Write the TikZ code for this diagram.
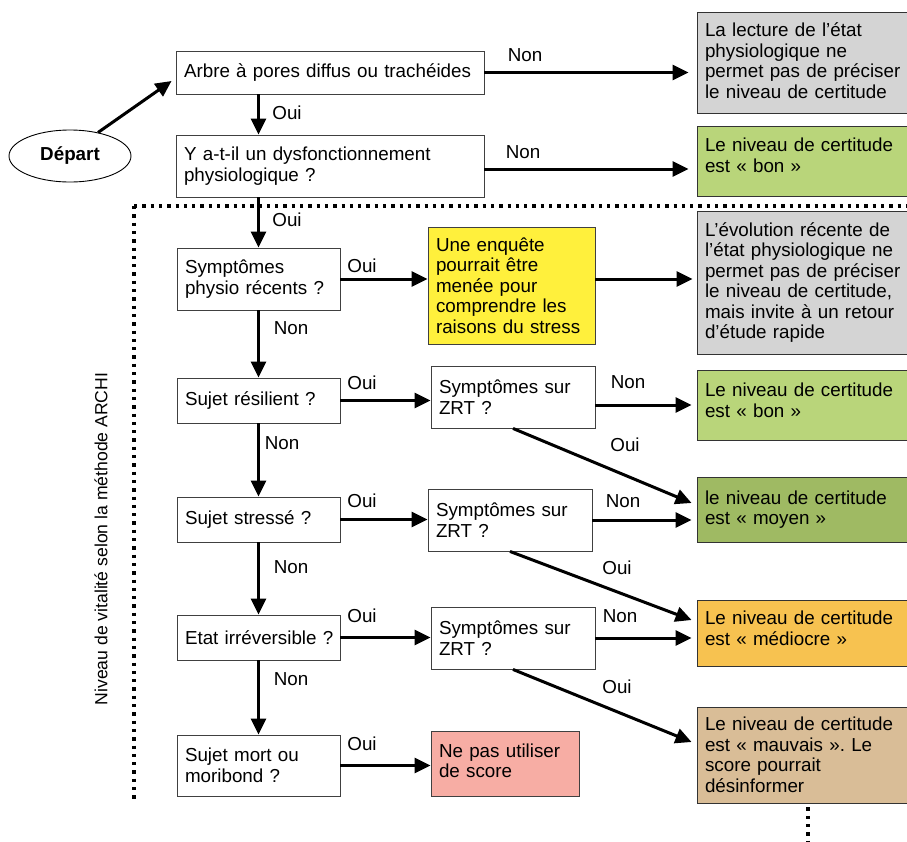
\documentclass[tikz,border=0pt]{standalone}
\usepackage{fontspec}
\setmainfont{Liberation Sans}
\usetikzlibrary{arrows.meta,shapes.geometric,calc}
\definecolor{cgray}{HTML}{D4D4D4}
\definecolor{cbon}{HTML}{B9D57A}
\definecolor{cmoyen}{HTML}{9FBA63}
\definecolor{cyellow}{HTML}{FFF03C}
\definecolor{cmedi}{HTML}{F7C250}
\definecolor{cmauv}{HTML}{D9BD97}
\definecolor{cred}{HTML}{F7ADA4}
\newcommand{\upby}[1]{\rule[-#1]{0pt}{#1}}
\begin{document}
\begin{tikzpicture}[x=1pt,y=-1pt,
  every node/.style={font=\fontsize{18.8}{20.5}\selectfont},
  bx/.style={draw=black!75, line width=0.9pt, rectangle, align=left, inner xsep=8pt, inner ysep=2pt},
  res/.style={bx, draw=black!80, minimum width=222pt, text width=206pt},
  qb/.style={bx, minimum width=163pt, text width=147pt},
  zb/.style={bx, minimum width=164pt, text width=148pt, minimum height=62pt},
  arr/.style={line width=3pt, -{Triangle[length=16pt,width=15pt]}},
  lab/.style={inner sep=0pt},
  dotline/.style={line width=3.3pt, line cap=butt, dash pattern=on 3.3pt off 5pt}]
\useasboundingbox (0,0) rectangle (907,841);
\clip (0,0) rectangle (907,841);

% start
\node[ellipse, draw, line width=0.9pt, minimum width=122pt, minimum height=52pt,
  font=\fontsize{18.8}{20.5}\selectfont\bfseries] (depart) at (70,156) {Départ};

% top questions
\node[bx, minimum width=308pt, text width=292pt, minimum height=43pt] (b1) at (330,72.5) {Arbre à pores diffus ou trachéides};
\node[bx, minimum width=308pt, text width=292pt, minimum height=62pt] (b2) at (330,166) {Y a-t-il un dysfonctionnement\\physiologique ?};

% left column questions
\node[qb, minimum height=62pt] (q1) at (258.5,279) {Symptômes\\physio récents ?};
\node[qb, minimum height=45pt] (q2) at (258.5,400.5) {Sujet résilient ?};
\node[qb, minimum height=45pt] (q3) at (258.5,519.5) {Sujet stressé ?};
\node[qb, minimum height=45pt] (q4) at (258.5,637.5) {\mbox{Etat irréversible ?}};
\node[qb, minimum height=61pt] (q5) at (258.5,765.5) {Sujet mort ou\\moribond ?};

% middle column
\node[bx, fill=cyellow, minimum width=167pt, text width=151pt, minimum height=117pt] (yel) at (511.5,285.5)
  {Une enquête\\pourrait être\\menée pour\\comprendre les\\raisons du stress};
\node[zb] (z1) at (513,397) {Symptômes sur\\ZRT ?};
\node[zb] (z2) at (510,520) {Symptômes sur\\ZRT ?};
\node[zb] (z3) at (513,638) {Symptômes sur\\ZRT ?};
\node[bx, fill=cred, minimum width=148pt, text width=132pt, minimum height=65pt] (red) at (505,763.5) {Ne pas utiliser\\de score\upby{6pt}};

% right column results
\node[res, fill=cgray, minimum height=101pt] (g1) at (808,62.5) {La lecture de l’état\\physiologique ne\\permet pas de préciser\\le niveau de certitude\upby{4pt}};
\node[res, fill=cbon, minimum height=70pt] (bon1) at (808,161) {Le niveau de certitude\\est « bon »\upby{12pt}};
\node[res, fill=cgray, minimum height=143pt] (g2) at (808,282.5) {L’évolution récente de\\l’état physiologique ne\\permet pas de préciser\\le niveau de certitude,\\mais invite à un retour\\d’étude rapide};
\node[res, fill=cbon, minimum height=70pt] (bon2) at (808,405) {Le niveau de certitude\\est « bon »\upby{10pt}};
\node[res, fill=cmoyen, minimum height=65pt] (moy) at (808,509.5) {le niveau de certitude\\est « moyen »};
\node[res, fill=cmedi, minimum height=66pt] (medi) at (808,633) {Le niveau de certitude\\est « médiocre »\upby{10pt}};
\node[res, fill=cmauv, minimum height=96pt] (mauv) at (808,755) {Le niveau de certitude\\est « mauvais ».\ Le\\score pourrait\\désinformer};

% side label
\node[rotate=90, font=\fontsize{17.6}{20}\selectfont] (vit) at (101,539) {Niveau de vitalité selon la méthode ARCHI};

% dotted frame
\coordinate (dA) at (134,206);
\coordinate (dB) at (907,206);
\coordinate (dC) at (134,802);
\coordinate (dE) at (808,841);
\draw[dotline] (dA) -- (dB);
\draw[dotline] (dA) -- (dC);
\draw[dotline] ([yshift=-4pt]mauv.south) -- (dE);

% connectors
\draw[arr] (depart.40) -- ([xshift=-4pt,yshift=-8.5pt]b1.west);
\draw[arr] (q1.north |- b1.south) -- (q1.north |- b2.north);
\draw[arr] (q1.north |- b2.south) -- (q1.north);
\draw[arr] (q1.south) -- (q2.north);
\draw[arr] (q2.south) -- (q3.north);
\draw[arr] (q3.south) -- (q4.north);
\draw[arr] (q4.south) -- (q5.north);

\draw[arr, shorten >=8pt] (b1.east) -- (b1.east -| g1.west);
\draw[arr, shorten >=8pt] ([yshift=-3pt]b2.east) -- ([yshift=-3pt]b2.east -| bon1.west);

\draw[arr] (q1.east) -- (q1.east -| yel.west);
\draw[arr, shorten >=4pt] (yel.east |- q1.east) -- (g2.west |- q1.east);
\draw[arr] (q2.east) -- (q2.east -| z1.west);
\draw[arr] (q3.east) -- (q3.east -| z2.west);
\draw[arr] (q4.east) -- (q4.east -| z3.west);
\draw[arr] (q5.east) -- (q5.east -| red.west);

\draw[arr, shorten >=5pt] (z1.east |- bon2.west) -- (bon2.west);
\draw[arr, shorten >=5pt] (z2.east) -- (z2.east -| moy.west);
\draw[arr, shorten >=5pt] (z3.east) -- (z3.east -| medi.west);
\draw[arr] (z1.south) -- ([xshift=-5pt,yshift=6.5pt]moy.west);
\draw[arr] (z2.south) -- ([xshift=-5pt,yshift=13pt]medi.west);
\draw[arr] (z3.south) -- ([xshift=-5pt,yshift=13pt]mauv.west);

% labels
\node[lab] (n1) at (525,55) {Non};
\node[lab] (n2) at (523,152) {Non};
\node[lab] (o1) at (287,113) {Oui};
\node[lab] (o2) at (287,220) {Oui};
\node[lab] (n3) at (291,328) {Non};
\node[lab] (n4) at (282,443) {Non};
\node[lab] (n5) at (291,567) {Non};
\node[lab] (n6) at (291,679) {Non};
\node[lab] (o3) at (362,266) {Oui};
\node[lab] (o4) at (362,383) {Oui};
\node[lab] (o5) at (362,501) {Oui};
\node[lab] (o6) at (362,616) {Oui};
\node[lab] (o7) at (362,744) {Oui};
\node[lab] (n7) at (628,382) {Non};
\node[lab] (o8) at (625,445) {Oui};
\node[lab] (n8) at (623,501) {Non};
\node[lab] (o9) at (617,568) {Oui};
\node[lab] (n9) at (620,616) {Non};
\node[lab] (o10) at (617,687) {Oui};
\end{tikzpicture}
\end{document}
